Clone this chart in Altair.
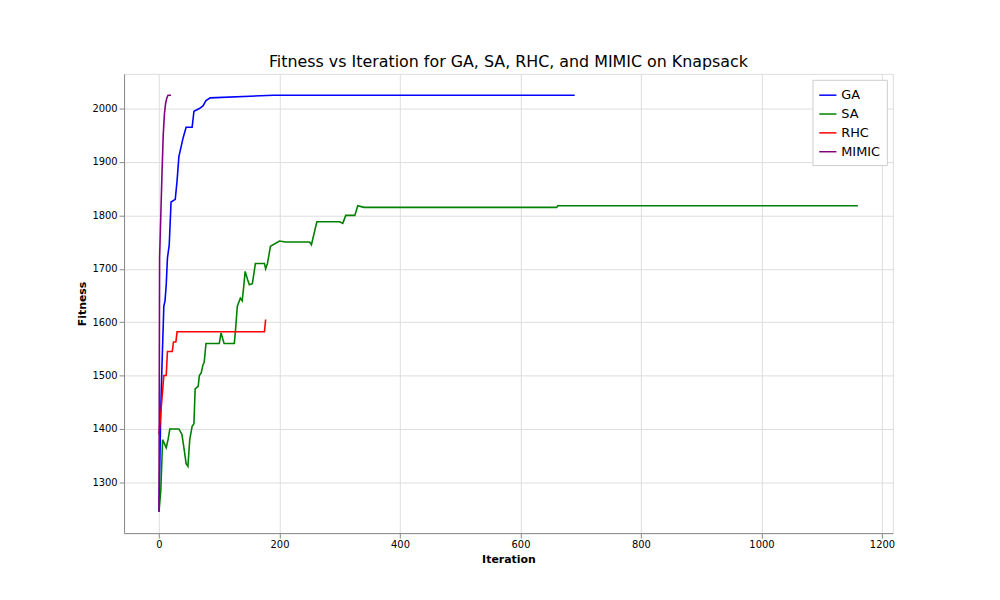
import altair as alt
import pandas as pd

ga_x = [0,3,5,8,10,12,14,17,20,27,30,33,37,40,45,55,58,67,73,78,85,190,690]
ga_y = [1245,1440,1520,1630,1640,1670,1720,1745,1825,1830,1865,1910,1930,1945,1965,1965,1995,2000,2005,2015,2020,2025,2025]
sa_x = [0,3,6,12,15,18,33,38,42,45,48,51,55,58,60,65,67,70,73,75,78,100,103,108,125,127,130,135,138,140,143,147,150,155,160,175,177,180,185,200,210,250,253,262,300,305,310,325,330,340,660,662,1160]
sa_y = [1245,1285,1380,1365,1380,1400,1400,1390,1360,1335,1330,1380,1405,1410,1475,1480,1500,1505,1520,1525,1560,1560,1580,1560,1560,1585,1630,1645,1640,1660,1695,1680,1670,1672,1710,1710,1700,1710,1742,1752,1750,1750,1745,1788,1788,1785,1800,1800,1818,1815,1815,1818,1818]
rhc_x = [0,3,8,12,14,22,24,28,30,175,177]
rhc_y = [1390,1430,1500,1500,1545,1545,1563,1563,1582,1582,1605]
mimic_x = [0,1,3,5,7,9,11,13,15,20]
mimic_y = [1245,1720,1800,1880,1950,1990,2010,2020,2025,2025]

names = ["GA","SA","RHC","MIMIC"]
colors = ["blue","green","red","purple"]
rows = []
for n, xs, ys in zip(names, [ga_x,sa_x,rhc_x,mimic_x], [ga_y,sa_y,rhc_y,mimic_y]):
    for i,(a,b) in enumerate(zip(xs,ys)):
        rows.append({"alg":n,"Iteration":a,"Fitness":b,"o":i})
df = pd.DataFrame(rows)

chart = alt.Chart(df).mark_line(strokeWidth=1.6, clip=True).encode(
    x=alt.X("Iteration:Q", scale=alt.Scale(domain=[-58,1218], nice=False, zero=False),
            axis=alt.Axis(values=[0,200,400,600,800,1000,1200], format="d", title="Iteration")),
    y=alt.Y("Fitness:Q", scale=alt.Scale(domain=[1205,2065], nice=False, zero=False),
            axis=alt.Axis(values=[1300,1400,1500,1600,1700,1800,1900,2000], format="d", title="Fitness")),
    color=alt.Color("alg:N", scale=alt.Scale(domain=names, range=colors),
                    legend=alt.Legend(title=None, orient="top-right", fillColor="white", offset=6,
                                      strokeColor="#ccc", padding=6, symbolType="stroke",
                                      labelFontSize=13, symbolSize=300)),
    order="o:Q",
).properties(
    width=775, height=463,
    title=alt.Title("Fitness vs Iteration for GA, SA, RHC, and MIMIC on Knapsack", fontSize=16, fontWeight="normal"),
    autosize=alt.AutoSizeParams(type="none"),
    padding={"left":117,"top":64,"right":100,"bottom":60},
).configure_axis(
    grid=True, gridColor="#b0b0b0", domainColor="black", tickColor="black",
    labelFontSize=12, titleFontSize=13, titleFontWeight="normal", labelColor="black", titleColor="black"
).configure_view(stroke="black", strokeWidth=1).configure(font="DejaVu Sans")

chart.save("out.html", embed_options={"renderer": "svg", "actions": False})
